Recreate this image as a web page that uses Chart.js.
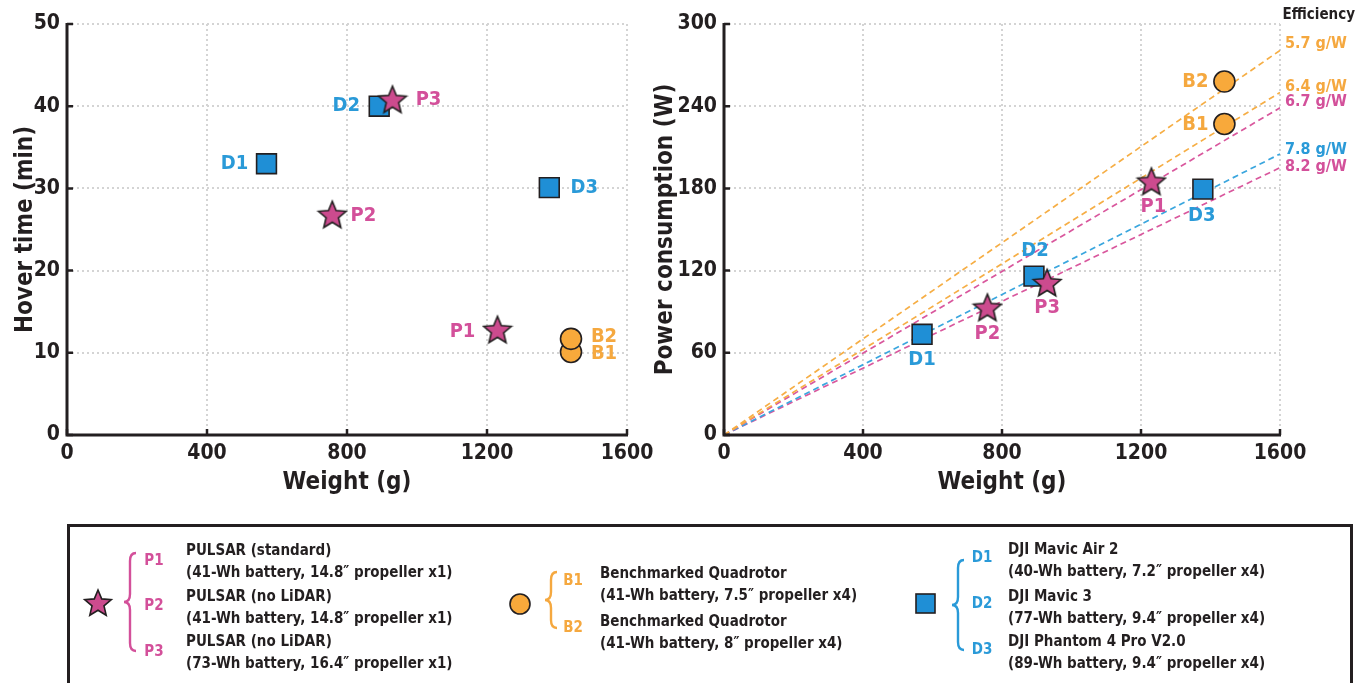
<!DOCTYPE html>
<html>
<head>
<meta charset="utf-8">
<script src="https://cdn.jsdelivr.net/npm/chart.js@4.4.1/dist/chart.umd.min.js"></script>
<style>
  html, body { margin: 0; padding: 0; background: #fff; }
  body { width: 1366px; height: 683px; position: relative; overflow: hidden; }
  #hoverWrap { position: absolute; left: 0; top: 0; width: 660px; height: 510px; }
  #powerWrap { position: absolute; left: 640px; top: 0; width: 726px; height: 510px; }
  #legendBox { position: absolute; left: 0; top: 0; }
</style>
</head>
<body>
<div id="hoverWrap"><canvas id="hoverChart"></canvas></div>
<div id="powerWrap"><canvas id="powerChart"></canvas></div>
<svg id="legendBox" width="1366" height="683"></svg>
<script>
// PULSAR (stars)
const pulsarIds = ["P1", "P2", "P3"];
const pulsarWeight = [1230, 758, 930];
const pulsarHover = [12.8, 26.8, 40.8];
const pulsarPower = [185, 93, 111];
const pulsarNames = ["PULSAR (standard)", "PULSAR (no LiDAR)", "PULSAR (no LiDAR)"];
const pulsarSpecs = ["(41-Wh battery, 14.8\u2033 propeller x1)", "(41-Wh battery, 14.8\u2033 propeller x1)", "(73-Wh battery, 16.4\u2033 propeller x1)"];

// benchmarked quadrotors (circles)
const benchIds = ["B1", "B2"];
const benchWeight = [1440, 1440];
const benchHover = [10.1, 11.7];
const benchPower = [227, 258];
const benchNames = ["Benchmarked Quadrotor", "Benchmarked Quadrotor"];
const benchSpecs = ["(41-Wh battery, 7.5\u2033 propeller x4)", "(41-Wh battery, 8\u2033 propeller x4)"];

// DJI drones (squares)
const djiIds = ["D1", "D2", "D3"];
const djiWeight = [570, 892, 1378];
const djiHover = [33.0, 40.0, 30.1];
const djiPower = [73.5, 116, 179.5];
const djiNames = ["DJI Mavic Air 2", "DJI Mavic 3", "DJI Phantom 4 Pro V2.0"];
const djiSpecs = ["(40-Wh battery, 7.2\u2033 propeller x4)", "(77-Wh battery, 9.4\u2033 propeller x4)", "(89-Wh battery, 9.4\u2033 propeller x4)"];

// efficiency reference lines (g/W)
const effValues = [5.7, 6.4, 6.7, 7.8, 8.2];
const effGroup = ["bench", "bench", "pulsar", "dji", "pulsar"];

const weightTicks = [0, 400, 800, 1200, 1600];
const hoverTicks = [0, 10, 20, 30, 40, 50];
const powerTicks = [0, 60, 120, 180, 240, 300];

const FONT = "'Liberation Sans Narrow', 'DejaVu Sans Condensed', 'Liberation Sans', Arial, sans-serif";
const INK = "#231f20";
const fill = { pulsar: "#cc4b8e", bench: "#f8a93b", dji: "#1f8fd6" };
const text = { pulsar: "#d3509a", bench: "#f5a83f", dji: "#2a9ad8" };
const dash = { pulsar: "#d9579d", bench: "#f6ae45", dji: "#3aa6de" };

function makeStar(size) {
  const c = document.createElement("canvas");
  c.width = size; c.height = size;
  const g = c.getContext("2d");
  const r = size / 2 - 1.5, ri = r * 0.45, cx = size / 2, cy = size / 2 + 1;
  g.beginPath();
  for (let i = 0; i < 10; i++) {
    const rad = i % 2 ? ri : r;
    const a = -Math.PI / 2 + i * Math.PI / 5;
    g.lineTo(cx + rad * Math.cos(a), cy + rad * Math.sin(a));
  }
  g.closePath();
  g.fillStyle = fill.pulsar;
  g.fill();
  g.lineWidth = 1.6;
  g.strokeStyle = INK;
  g.stroke();
  return c;
}
const starImg = makeStar(32);

function pts(xs, ys) { return xs.map((x, i) => ({ x: x, y: ys[i] })); }

function pointSets(yKey) {
  const hover = yKey === "hover";
  return [
    { type: "scatter", label: "dji", data: pts(djiWeight, hover ? djiHover : djiPower), pointStyle: "rect", pointRadius: 14, backgroundColor: fill.dji, borderColor: INK, borderWidth: 1.6, order: 3 },
    { type: "scatter", label: "bench", data: pts(benchWeight, hover ? benchHover : benchPower), pointStyle: "circle", pointRadius: 10.5, backgroundColor: fill.bench, borderColor: INK, borderWidth: 1.6, order: 2 },
    { type: "scatter", label: "pulsar", data: pts(pulsarWeight, hover ? pulsarHover : pulsarPower), pointStyle: starImg, pointRadius: 16, order: 1 }
  ];
}

// label offsets (dx, dy) per chart, keyed by id
const hoverLabelPos = { D1: [-32, 0], D2: [-33, 0], D3: [35, 0], P1: [-35, 2], P2: [31, 1], P3: [36, 0], B1: [33, 2], B2: [33, -2] };
const powerLabelPos = { D1: [0, 25], D2: [1, -25], D3: [-1, 27], P1: [2, 25], P2: [0, 26], P3: [0, 25], B1: [-29, 1], B2: [-29, 0] };
const idsOf = { dji: djiIds, bench: benchIds, pulsar: pulsarIds };

const pointLabels = {
  id: "pointLabels",
  afterDatasetsDraw(chart, args, opts) {
    const ctx = chart.ctx;
    ctx.save();
    ctx.font = "bold 20px " + FONT;
    ctx.textAlign = "center";
    ctx.textBaseline = "middle";
    chart.data.datasets.forEach((ds, di) => {
      if (ds.type !== "scatter") return;
      const meta = chart.getDatasetMeta(di);
      meta.data.forEach((el, i) => {
        const id = idsOf[ds.label][i];
        const off = opts.pos[id];
        ctx.fillStyle = text[ds.label];
        ctx.fillText(id, el.x + off[0], el.y + off[1]);
      });
    });
    ctx.restore();
  }
};

// axis lines and inward tick marks
const inwardTicks = {
  id: "inwardTicks",
  afterDraw(chart) {
    const { ctx, chartArea: a, scales } = chart;
    ctx.save();
    ctx.strokeStyle = INK;
    ctx.lineWidth = 2.5;
    ctx.beginPath();
    scales.x.ticks.forEach(t => {
      const px = scales.x.getPixelForValue(t.value);
      ctx.moveTo(px, a.bottom); ctx.lineTo(px, a.bottom - 6);
    });
    scales.y.ticks.forEach(t => {
      const py = scales.y.getPixelForValue(t.value);
      ctx.moveTo(a.left, py); ctx.lineTo(a.left + 6, py);
    });
    ctx.stroke();
    ctx.lineWidth = 3;
    ctx.beginPath();
    ctx.moveTo(a.left, a.top - 1); ctx.lineTo(a.left, a.bottom); ctx.lineTo(a.right + 1, a.bottom);
    ctx.stroke();
    ctx.restore();
  }
};

const effLabels = {
  id: "effLabels",
  afterDraw(chart) {
    const { ctx, scales } = chart;
    const dy = [-7, -6, -6, -4, -1];
    ctx.save();
    ctx.textBaseline = "middle";
    ctx.textAlign = "right";
    ctx.font = "bold 15px " + FONT;
    ctx.fillStyle = INK;
    ctx.fillText("Efficiency", 1355 - 640, 15);
    ctx.textAlign = "left";
    ctx.font = "bold 16px " + FONT;
    effValues.forEach((e, i) => {
      const x = scales.x.getPixelForValue(1600);
      const y = scales.y.getPixelForValue(1600 / e);
      ctx.fillStyle = text[effGroup[i]];
      ctx.fillText(e.toFixed(1) + " g/W", x + 5, y + dy[i]);
    });
    ctx.restore();
  }
};

function axes(yTicks, yTitle, yWidth, xHeight) {
  const common = {
    type: "linear",
    grid: { color: "#d4d4d4", lineWidth: 2, drawTicks: false },
    border: { display: false, dash: [2, 3] },
    ticks: { color: INK, font: { family: FONT, size: 21, weight: "bold" }, callback: v => String(v) },
    title: { display: true, color: INK, font: { family: FONT, size: 24, weight: "bold" } }
  };
  return {
    x: Object.assign({}, common, {
      min: weightTicks[0], max: weightTicks[weightTicks.length - 1],
      afterBuildTicks: s => { s.ticks = weightTicks.map(v => ({ value: v })); },
      ticks: Object.assign({}, common.ticks, { padding: 6, maxRotation: 0 }),
      title: Object.assign({}, common.title, { text: "Weight (g)", padding: { top: 0, bottom: 13 } }),
      afterFit: s => { s.height = xHeight; }
    }),
    y: Object.assign({}, common, {
      min: yTicks[0], max: yTicks[yTicks.length - 1],
      afterBuildTicks: s => { s.ticks = yTicks.map(v => ({ value: v })); },
      ticks: Object.assign({}, common.ticks, { padding: 7 }),
      title: Object.assign({}, common.title, { text: yTitle, padding: { top: 11, bottom: 0 } }),
      afterFit: s => { s.width = yWidth; }
    })
  };
}

const baseOpts = {
  responsive: true,
  maintainAspectRatio: false,
  animation: false,
  events: [],
  plugins: { legend: { display: false }, tooltip: { enabled: false } }
};

new Chart(document.getElementById("hoverChart"), {
  data: { datasets: pointSets("hover") },
  options: Object.assign({}, baseOpts, {
    layout: { padding: { top: 24, right: 33, left: 0, bottom: 0 } },
    scales: axes(hoverTicks, "Hover time (min)", 67, 75),
    plugins: Object.assign({}, baseOpts.plugins, { pointLabels: { pos: hoverLabelPos } })
  }),
  plugins: [inwardTicks, pointLabels]
});

const effSets = effValues.map((e, i) => ({
  type: "line",
  label: "eff" + e,
  data: [{ x: 0, y: 0 }, { x: 1600, y: 1600 / e }],
  borderColor: dash[effGroup[i]],
  borderWidth: 1.7,
  borderDash: [6, 4],
  pointRadius: 0,
  order: 10
}));

new Chart(document.getElementById("powerChart"), {
  data: { datasets: effSets.concat(pointSets("power")) },
  options: Object.assign({}, baseOpts, {
    layout: { padding: { top: 24, right: 86, left: 0, bottom: 0 } },
    scales: axes(powerTicks, "Power consumption (W)", 84, 75),
    plugins: Object.assign({}, baseOpts.plugins, { pointLabels: { pos: powerLabelPos } })
  }),
  plugins: [inwardTicks, pointLabels, effLabels]
});

// legend box below the charts
const svg = document.getElementById("legendBox");
const NS = "http://www.w3.org/2000/svg";
function el(tag, attrs, content) {
  const e = document.createElementNS(NS, tag);
  for (const k in attrs) e.setAttribute(k, attrs[k]);
  if (content !== undefined) e.textContent = content;
  svg.appendChild(e);
  return e;
}
function brace(x, y1, y2, color) {
  const m = (y1 + y2) / 2;
  const d = `M${x + 6},${y1} Q${x},${y1} ${x},${y1 + 8} L${x},${m - 8} Q${x},${m} ${x - 6},${m} Q${x},${m} ${x},${m + 8} L${x},${y2 - 8} Q${x},${y2} ${x + 6},${y2}`;
  el("path", { d: d, fill: "none", stroke: color, "stroke-width": 2.4 });
}
el("rect", { x: 68.5, y: 525.5, width: 1283, height: 170, fill: "none", stroke: INK, "stroke-width": 3 });

function group(ids, names, specs, color, braceX, idX, textX, rows, braceTop, braceBot) {
  brace(braceX, braceTop, braceBot, color);
  const t = { "font-family": FONT, "font-size": 15, "font-weight": "bold", "dominant-baseline": "middle" };
  ids.forEach((id, i) => {
    const r = rows[i];
    el("text", Object.assign({ x: idX, y: r.id, fill: color, "text-anchor": "middle" }, t), id);
    el("text", Object.assign({ x: textX, y: r.name, fill: INK }, t), names[i]);
    el("text", Object.assign({ x: textX, y: r.name + 22, fill: INK }, t), specs[i]);
  });
}

// symbols
const starPath = (() => {
  const cx = 98, cy = 604, r = 14, ri = r * 0.45;
  let d = "";
  for (let i = 0; i < 10; i++) {
    const rad = i % 2 ? ri : r;
    const a = -Math.PI / 2 + i * Math.PI / 5;
    d += (i ? "L" : "M") + (cx + rad * Math.cos(a)).toFixed(1) + "," + (cy + rad * Math.sin(a)).toFixed(1);
  }
  return d + "Z";
})();
el("path", { d: starPath, fill: fill.pulsar, stroke: INK, "stroke-width": 1.6 });
el("circle", { cx: 520, cy: 604, r: 10, fill: fill.bench, stroke: INK, "stroke-width": 1.6 });
el("rect", { x: 916, y: 594, width: 19, height: 19, fill: fill.dji, stroke: INK, "stroke-width": 1.6 });

group(pulsarIds, pulsarNames, pulsarSpecs, text.pulsar, 130, 154, 186,
  [{ id: 560, name: 550 }, { id: 605, name: 596 }, { id: 651, name: 641 }], 553, 651);
group(benchIds, benchNames, benchSpecs, text.bench, 551, 573, 600,
  [{ id: 580, name: 573 }, { id: 627, name: 621 }], 572, 628);
group(djiIds, djiNames, djiSpecs, text.dji, 958, 982, 1008,
  [{ id: 557, name: 549 }, { id: 603, name: 596 }, { id: 649, name: 641 }], 560, 650);
</script>
</body>
</html>
